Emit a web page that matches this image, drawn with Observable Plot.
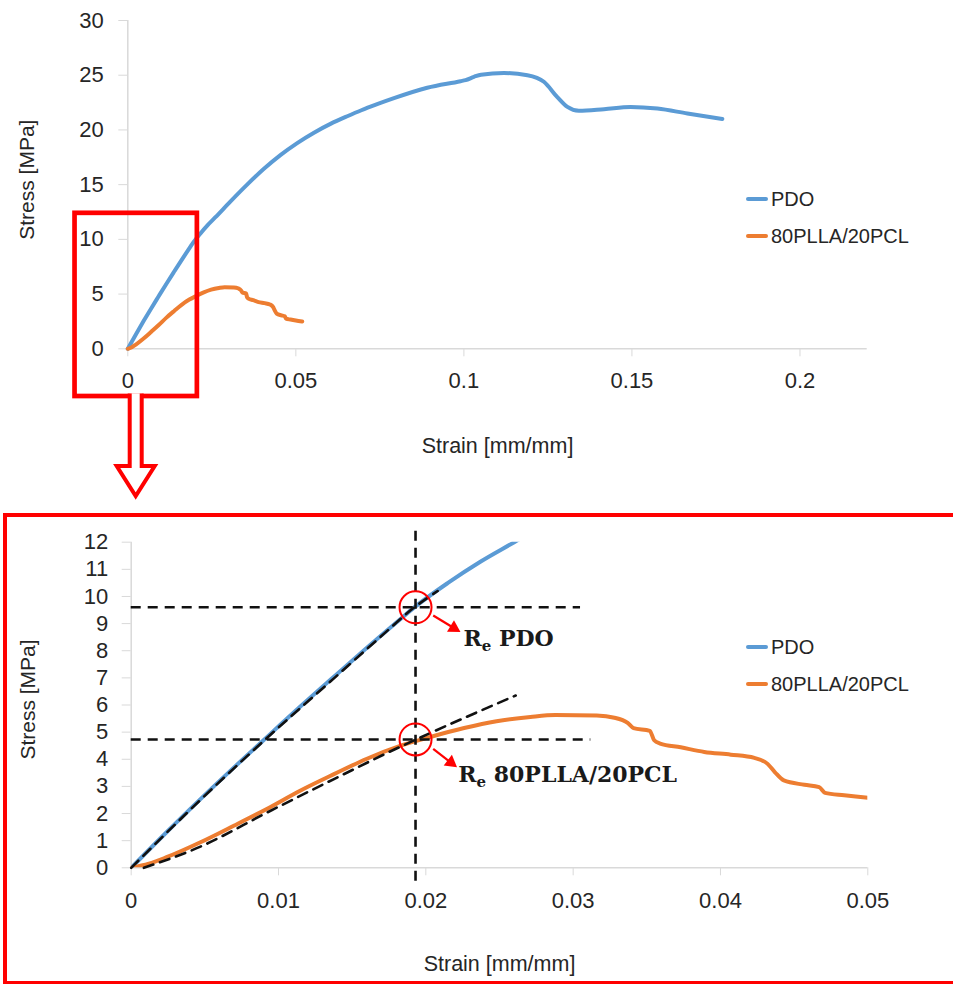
<!DOCTYPE html>
<html><head><meta charset="utf-8">
<script src="https://cdn.jsdelivr.net/npm/d3@7"></script>
<script src="https://cdn.jsdelivr.net/npm/@observablehq/plot@0.6"></script>
<style>
body{margin:0;background:#fff;}
#wrap{position:relative;width:953px;height:984px;overflow:hidden;background:#fff;font-family:"Liberation Sans",Arial,sans-serif;}
#wrap svg{position:absolute;left:0;}
.legend{position:absolute;font-size:20px;color:#262626;}
.legend .row{display:flex;align-items:center;height:37px;white-space:nowrap;}
.legend .sw{width:22px;height:4px;margin-right:3px;border-radius:2px;}
#frame{position:absolute;left:3px;top:513px;width:960px;height:464px;border:4px solid #ff0000;pointer-events:none;}
</style></head>
<body><div id="wrap"></div>
<script>
// ---------- data ----------
const seriesNames = ["PDO", "80PLLA/20PCL"];
const seriesColors = ["#5B9BD5", "#ED7D31"];

const pdoStrain = [0,0.0024,0.0047,0.007,0.009,0.0115,0.0138,0.016,0.0183,0.0192,0.0215,0.0237,0.026,0.0305,0.0355,0.0405,0.0454,0.0504,0.0554,0.0603,0.0653,0.0695,0.0742,0.0792,0.0891,0.099,0.1005,0.103,0.1051,0.1119,0.1189,0.1238,0.1278,0.1308,0.1342,0.1417,0.1496,0.1576,0.1665,0.1769];
const pdoStress = [0,1.31,2.53,3.71,4.71,5.95,7.06,8.11,9.18,9.59,10.5,11.28,12.0,13.45,15.0,16.45,17.7,18.8,19.75,20.55,21.25,21.8,22.35,22.9,23.85,24.45,24.55,24.85,25.05,25.2,25.0,24.4,23.0,22.1,21.75,21.9,22.1,21.95,21.5,21.0];

const plStrain = [0,0.0012,0.0024,0.0047,0.007,0.0092,0.0115,0.0138,0.016,0.0183,0.0203,0.0226,0.0248,0.0271,0.0288,0.0316,0.0328,0.0337,0.0341,0.0352,0.0355,0.0359,0.0373,0.0389,0.0407,0.0423,0.0432,0.0437,0.0443,0.0457,0.0467,0.0471,0.0484,0.05,0.0519];
const plStress = [0,0.15,0.39,0.94,1.56,2.17,2.85,3.46,4.02,4.5,4.82,5.15,5.40,5.56,5.63,5.61,5.53,5.34,5.15,5.05,4.70,4.58,4.44,4.27,4.17,4.05,3.83,3.52,3.22,3.06,2.97,2.76,2.67,2.58,2.5];

// dashed construction lines (bottom chart)
const pdoTanStrain = [0,0.0047,0.009,0.0138,0.0169,0.0192,0.0208];
const pdoTanStress = [0,2.5,4.68,7.0,8.5,9.59,10.2];
const plTanStrain = [0.00086,0.0047,0.0092,0.0138,0.0183,0.0193,0.0261];
const plTanStress = [0,0.78,2.03,3.28,4.47,4.72,6.35];

const reStrain = 0.0193;              // vertical dashed line
const reStress = [9.6, 4.73];         // yield points
const reLineEnd = [0.0305, 0.0312];   // horizontal dashed lines end
const reVertical = [-0.5, 12.55];
const reLabelNames = ["PDO", "80PLLA/20PCL"];
const reLabelX = [0.02255, 0.0222];
const reLabelY = [8.42, 3.44];
const arrowX1 = [0.0205, 0.0205], arrowY1 = [9.3, 4.38];
const arrowX2 = [0.0219, 0.0217], arrowY2 = [8.84, 3.88];

// ticks
const topXTicks = [0, 0.05, 0.1, 0.15, 0.2];
const topYTicks = [0, 5, 10, 15, 20, 25, 30];
const botXTicks = [0, 0.01, 0.02, 0.03, 0.04, 0.05];
const botYTicks = [0,1,2,3,4,5,6,7,8,9,10,11,12];
const xTitle = "Strain [mm/mm]";
const yTitle = "Stress [MPa]";

// highlighted zoom region in the top chart
const zoomBox = [{x1: -0.0157, x2: 0.0207, y1: -4.36, y2: 12.38}];

// ---------- tables ----------
const pdo = pdoStrain.map((x, i) => ({strain: x, stress: pdoStress[i]}));
const pl = plStrain.map((x, i) => ({strain: x, stress: plStress[i]}));
const pdoTan = pdoTanStrain.map((x, i) => ({strain: x, stress: pdoTanStress[i]}));
const plTan = plTanStrain.map((x, i) => ({strain: x, stress: plTanStress[i]}));
const reH = reStress.map((y, i) => ({y, xEnd: reLineEnd[i]}));
const rePts = reStress.map(y => ({x: reStrain, y}));
const reLabels = reLabelNames.map((n, i) => ({name: n, x: reLabelX[i], y: reLabelY[i]}));

const FONT = '"Liberation Sans", Arial, sans-serif';
const TXT = "#262626";
const AX = "#d9d9d9";
const wrap = document.getElementById("wrap");

function fixAxes(svg) {
  svg.querySelectorAll('[aria-label^="x-axis"] text, [aria-label^="y-axis"] text')
    .forEach(t => t.setAttribute("fill", TXT));
}

// ---------- top chart ----------
const T = {W: 953, H: 515, mt: 20, mr: 86.3, mb: 166.7, ml: 127.3, xd: [0, 0.22], yd: [0, 30]};
const topPlot = Plot.plot({
  width: T.W, height: T.H,
  marginTop: T.mt, marginRight: T.mr, marginBottom: T.mb, marginLeft: T.ml,
  style: {fontFamily: FONT, fontSize: "22px", color: AX, background: "transparent", overflow: "visible"},
  x: {domain: T.xd, ticks: topXTicks, tickFormat: d => String(d), tickSize: 8, tickPadding: 16, label: null},
  y: {domain: T.yd, ticks: topYTicks, tickSize: 9, tickPadding: 15, label: null},
  marks: [
    Plot.ruleX([0], {stroke: AX, strokeWidth: 1.5}),
    Plot.ruleY([0], {stroke: AX, strokeWidth: 1.5}),
    Plot.line(pdo, {x: "strain", y: "stress", stroke: seriesColors[0], strokeWidth: 4, curve: "monotone-x"}),
    Plot.line(pl, {x: "strain", y: "stress", stroke: seriesColors[1], strokeWidth: 4, curve: "monotone-x"}),
    Plot.rect(zoomBox, {x1: "x1", x2: "x2", y1: "y1", y2: "y2", fill: "none", stroke: "#ff0000", strokeWidth: 4.7}),
    Plot.text([yTitle], {frameAnchor: "left", rotate: -90, dx: -101, dy: -5, textAnchor: "middle", lineAnchor: "middle", fill: TXT, fontSize: 21}),
    Plot.text([xTitle], {frameAnchor: "bottom", dy: 97, textAnchor: "middle", lineAnchor: "middle", fill: TXT, fontSize: 21.5})
  ]
});
topPlot.style.top = "0px";
wrap.appendChild(topPlot);
fixAxes(topPlot);

// hollow red arrow below the zoom box
{
  const sx = v => T.ml + (v - T.xd[0]) / (T.xd[1] - T.xd[0]) * (T.W - T.ml - T.mr);
  const sy = v => T.mt + (T.yd[1] - v) / (T.yd[1] - T.yd[0]) * (T.H - T.mt - T.mb);
  const b = zoomBox[0];
  const cx = (sx(b.x1) + sx(b.x2)) / 2, yb = sy(b.y1);
  const d = `M${cx-6},${yb-2.6} L${cx-6},${yb+70} L${cx-19},${yb+70} L${cx},${yb+100} L${cx+19},${yb+70} L${cx+6},${yb+70} L${cx+6},${yb-2.6}`;
  d3.select(topPlot).append("path").attr("d", d).attr("fill", "#fff")
    .attr("stroke", "#ff0000").attr("stroke-width", 4).attr("stroke-linejoin", "miter");
}

// ---------- bottom chart ----------
const B = {W: 953, H: 469, mt: 26.7, mr: 85.7, mb: 116.7, ml: 130.7, xd: [0, 0.05], yd: [0, 12]};
const kx = (B.W - B.ml - B.mr) / (B.xd[1] - B.xd[0]);
const ky = (B.H - B.mt - B.mb) / (B.yd[1] - B.yd[0]);
const arrows = arrowX1.map((x1, i) => {
  const dx = (arrowX2[i] - x1) * kx, dy = (arrowY1[i] - arrowY2[i]) * ky; // screen: right, down
  return {x1, y1: arrowY1[i], x2: arrowX2[i], y2: arrowY2[i], angle: Math.atan2(dx, -dy) * 180 / Math.PI};
});
const dash = {stroke: "#111", strokeWidth: 2.6, strokeDasharray: "10,7"};
const botPlot = Plot.plot({
  width: B.W, height: B.H,
  marginTop: B.mt, marginRight: B.mr, marginBottom: B.mb, marginLeft: B.ml,
  style: {fontFamily: FONT, fontSize: "22px", color: AX, background: "transparent", overflow: "visible"},
  x: {domain: B.xd, ticks: botXTicks, tickFormat: d => String(d), tickSize: 8, tickPadding: 16.5, label: null},
  y: {domain: B.yd, ticks: botYTicks, tickSize: 9, tickPadding: 14, label: null},
  marks: [
    Plot.ruleX([0], {stroke: AX, strokeWidth: 1.5}),
    Plot.ruleY([0], {stroke: AX, strokeWidth: 1.5}),
    Plot.line(pdo, {x: "strain", y: "stress", stroke: seriesColors[0], strokeWidth: 4, curve: "monotone-x", clip: true}),
    Plot.line(pl, {x: "strain", y: "stress", stroke: seriesColors[1], strokeWidth: 4, curve: "monotone-x", clip: true}),
    Plot.ruleY(reH, {y: "y", x1: 0, x2: "xEnd", ...dash}),
    Plot.ruleX([reStrain], {x: d => d, y1: reVertical[0], y2: reVertical[1], ...dash}),
    Plot.line(pdoTan, {x: "strain", y: "stress", curve: "monotone-x", ...dash}),
    Plot.line(plTan, {x: "strain", y: "stress", curve: "monotone-x", ...dash}),
    Plot.dot(rePts, {x: "x", y: "y", r: 16, stroke: "#ff0000", strokeWidth: 2, fill: "none"}),
    Plot.link(arrows, {x1: "x1", y1: "y1", x2: "x2", y2: "y2", stroke: "#ff0000", strokeWidth: 2.2}),
    Plot.dot(arrows, {x: "x2", y: "y2", symbol: "triangle", r: 5, fill: "#ff0000", stroke: "none", rotate: "angle"}),
    Plot.text(reLabels, {x: "x", y: "y", text: "name", textAnchor: "start", fill: "#1a1a1a",
      fontFamily: '"DejaVu Serif", "Liberation Serif", serif', fontWeight: "bold", fontSize: 22}),
    Plot.text([yTitle], {frameAnchor: "left", rotate: -90, dx: -103, dy: -5.5, textAnchor: "middle", lineAnchor: "middle", fill: TXT, fontSize: 21}),
    Plot.text([xTitle], {frameAnchor: "bottom", dy: 96, textAnchor: "middle", lineAnchor: "middle", fill: TXT, fontSize: 21.5})
  ]
});
botPlot.style.top = "515px";
wrap.appendChild(botPlot);
fixAxes(botPlot);

// subscript "e" in the yield labels  (R_e PDO, R_e 80PLLA/20PCL)
d3.select(botPlot).selectAll("text")
  .filter(function() { return reLabelNames.includes(this.textContent); })
  .each(function() {
    const name = this.textContent;
    const t = d3.select(this);
    t.text(null);
    t.append("tspan").text("R");
    t.append("tspan").attr("font-size", 15).attr("dy", 5).text("e");
    t.append("tspan").attr("dy", -5).text("\u00a0" + name);
  });

// ---------- legends ----------
function legend(top) {
  const div = document.createElement("div");
  div.className = "legend";
  div.style.left = "746px";
  div.style.top = top + "px";
  seriesNames.forEach((n, i) => {
    const row = document.createElement("div");
    row.className = "row";
    const sw = document.createElement("span");
    sw.className = "sw";
    sw.style.background = seriesColors[i];
    const tx = document.createElement("span");
    tx.textContent = n;
    row.appendChild(sw); row.appendChild(tx);
    div.appendChild(row);
  });
  wrap.appendChild(div);
}
legend(180.5);
legend(628.5);

// red frame around the zoomed chart
const frame = document.createElement("div");
frame.id = "frame";
wrap.appendChild(frame);
</script>
</body></html>
